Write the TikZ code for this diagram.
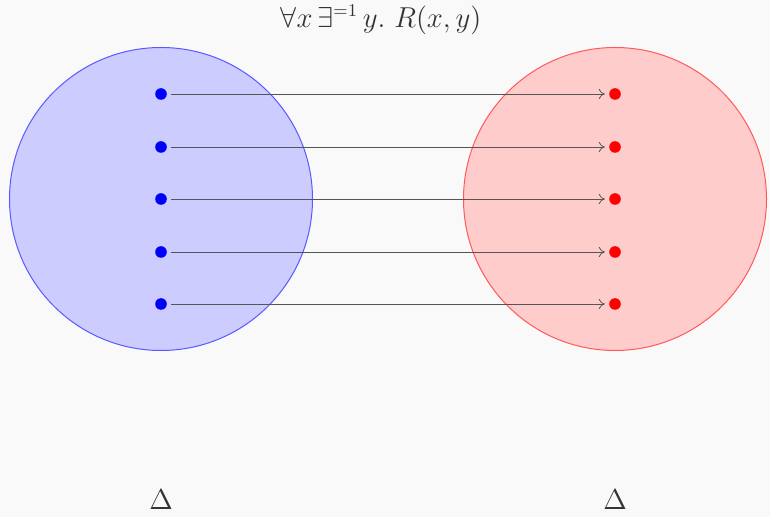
\documentclass[tikz,border=0pt]{standalone}
\usetikzlibrary{arrows.meta}
\definecolor{bg}{HTML}{F9F9F9}
\definecolor{txt}{HTML}{333333}
\definecolor{arr}{HTML}{555555}
\tikzset{
  setblob/.style={circle, minimum size=303pt*0.5, inner sep=0pt},
  leftset/.style={setblob, fill=blue!20, draw=blue!65, line width=0.5pt},
  rightset/.style={setblob, fill=red!20, draw=red!65, line width=0.5pt},
  ldot/.style={circle, fill=blue, inner sep=0pt, minimum size=5.8pt},
  rdot/.style={circle, fill=red, inner sep=0pt, minimum size=5.8pt},
  maparrow/.style={draw=arr, line width=0.4pt, -{To[length=3pt,width=5pt]}, shorten <=2pt, shorten >=2pt},
  lbl/.style={text=txt, font=\fontsize{13.5}{16}\selectfont, inner sep=0pt}
}
\begin{document}
\begin{tikzpicture}[x=0.5pt,y=-0.5pt]
\fill[bg] (0,0) rectangle (770,517);
\useasboundingbox (0,0) rectangle (770,517);
\node[leftset] (A) at (161,199) {};
\node[rightset] (B) at (615,199) {};
\node[lbl] (title) at (381,20) {$\forall x\,\exists^{=1}\, y.\ R(x,y)$};
\node[lbl] (dl) at (161,500) {$\Delta$};
\node[lbl] (dr) at (615,500) {$\Delta$};
\foreach \i/\y in {1/94,2/147,3/199,4/252,5/304}{
  \node[ldot] (l\i) at (161,\y) {};
  \node[rdot] (r\i) at (615,\y) {};
  \draw[maparrow] (l\i) -- (r\i);
}
\end{tikzpicture}
\end{document}
